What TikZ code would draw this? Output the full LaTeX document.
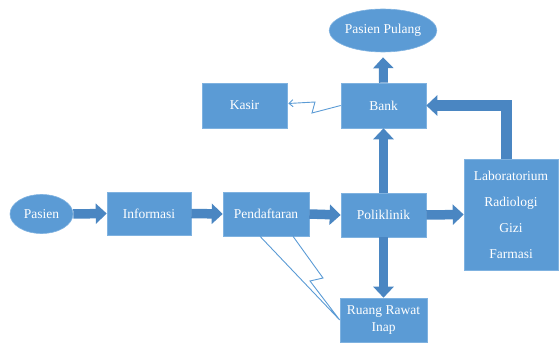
\documentclass[tikz,border=0pt]{standalone}
\usepackage{fontspec}
\setmainfont{Liberation Serif}
\usetikzlibrary{arrows.meta,shapes.geometric,calc}
\definecolor{boxblue}{HTML}{5B9BD5}
\definecolor{arrowblue}{HTML}{4A86C2}
\definecolor{edgeblue}{HTML}{7FB2E0}
\begin{document}
\begin{tikzpicture}[x=1pt,y=-1pt,
  box/.style={draw=edgeblue, line width=0.6pt, fill=boxblue, text=white,
    font=\fontsize{13.5}{17}\selectfont, inner sep=0pt, align=center},
  oval/.style={ellipse, draw=edgeblue, line width=0.6pt, fill=boxblue, text=white,
    font=\fontsize{13.5}{17}\selectfont, inner sep=0pt},
  bigarrow/.style={draw=arrowblue, line width=9.5pt, line join=miter,
    -{Triangle[width=20pt,length=11pt]}},
  bolt/.style={draw=boxblue, line width=0.9pt, line join=miter}
]
\useasboundingbox (0,0) rectangle (559,344);

\node[oval, minimum width=63pt, minimum height=39pt] (pasien) at (41.5,214) {Pasien};
\node[box, minimum width=84pt, minimum height=43pt] (info) at (149,213.5) {Informasi};
\node[box, minimum width=86pt, minimum height=44pt] (pend) at (266,214) {Pendaftaran};
\node[box, minimum width=85pt, minimum height=44pt] (poli) at (383.5,215) {Poliklinik};
\node[box, minimum width=85pt, minimum height=45pt] (bank) at (383.5,105.5) {Bank};
\node[box, minimum width=85pt, minimum height=45pt] (kasir) at (244.5,105.5) {Kasir};
\node[box, minimum width=87pt, minimum height=44pt] (ruang) at (383.5,320) {Ruang Rawat\\Inap};
\node[box, minimum width=94pt, minimum height=111pt,
  font=\fontsize{13.5}{26}\selectfont] (lab) at (511,214.5)
  {Laboratorium\\Radiologi\\Gizi\\Farmasi};
\node[oval, minimum width=101pt, minimum height=43pt] (pulang) at (383,30.5) {Pasien Pulang};

\coordinate (lx) at (506,0);

\draw[bigarrow] (pasien.east) -- (info.west);
\draw[bigarrow] (info.east) -- (pend.west);
\draw[bigarrow] (pend.east) -- (poli.west);
\draw[bigarrow] (poli.east) -- (lab.west);
\draw[bigarrow, line width=8.5pt] (poli.north) -- (bank.south);
\draw[bigarrow, line width=8.5pt] (poli.south) -- (ruang.north);
\draw[bigarrow, line width=9pt, shorten >=5pt] (bank.north) -- (pulang.south);
\draw[bigarrow, line width=11pt] (lab.north -| lx) |- (bank.east);

\draw[bolt, -{Straight Barb[length=4pt,width=7pt]}]
  (bank.west) -- (312,113) -- (315,102) -- ($(kasir.east)+(1,-2)$);
\draw[bolt] ($(pend.south)+(-6,0)$) -- (ruang.west) -- (310,281) -- (323,278)
  -- ($(pend.south)+(27,0)$);
\end{tikzpicture}
\end{document}
